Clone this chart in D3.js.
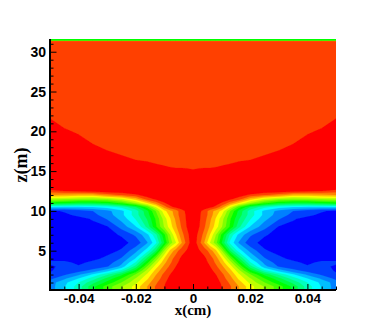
<!DOCTYPE html>
<html><head><meta charset="utf-8">
<script src="https://cdn.jsdelivr.net/npm/d3@7"></script>
<style>html,body{margin:0;padding:0;background:#fff}svg{display:block}</style></head>
<body><svg id="c" width="382" height="327"></svg>
<script>
// x positions (cm) of the left half of the field; the right half mirrors it
const halfX = [-0.05,-0.045,-0.04,-0.035,-0.03,-0.025,-0.02,-0.016,-0.013,-0.01,-0.008,-0.006,-0.004,-0.002,0];
// z positions (m) of the rows in fieldRows
const zRows = [0.06,0.5,1,1.5,2,2.5,3,3.5,4,5,6,7,8,9,9.5,10,10.5,11,11.5,12,12.5,13,14,15,16,18,20,22,24,31.3,31.36,31.6];
// contour level read at each (z, x), 0 = blue ... 16 = red
const fieldRows = [
[2,3.4,5,7.2,9,10.4,11.9,13.5,14.6,15.5,16.1,16.3,16.5,16.5,16.5],
[2,3.4,5,7.2,9,10.4,11.9,13.5,14.6,15.5,16.1,16.3,16.5,16.5,16.5],
[2,3.2,4.5,6.2,7.8,9.5,11.2,13,14.3,15.3,16.1,16.3,16.5,16.5,16.5],
[1.2,2.3,3.5,5,6.8,8.5,10.6,12.3,13.9,15,15.8,16.3,16.5,16.5,16.5],
[0.6,1.3,2.3,3.6,5.3,7.2,9.6,11.7,13.4,14.8,15.5,16.1,16.5,16.5,16.5],
[0.4,0.9,1.1,1.8,3,4.8,7.8,10.8,12.8,14.3,15.1,15.8,16.3,16.5,16.5],
[0.3,0.8,0.6,0.9,1.4,2.8,6,9.6,12,13.8,14.7,15.5,16.1,16.5,16.5],
[0.7,0.7,0.3,0.7,1,2.2,4.6,8.2,11,13.2,14.3,15.2,15.9,16.4,16.5],
[0.2,0.2,0.2,0.3,0.7,1.6,3.6,6.8,9.8,12.6,14,15,15.7,16.2,16.5],
[0,0,0,0,0.2,0.6,2.2,4,6.5,10.5,12.7,14,15.1,15.6,16.4],
[0,0,0,0,0,0.2,0.8,2.4,4.2,7.5,9.9,11.4,13.4,15,16.2],
[0,0,0,0,0.2,0.6,1.7,3.2,5.2,8.3,10.5,12.4,14.1,15.2,16.3],
[0,0,0,0.2,0.4,1.9,3.4,5.8,8.3,10.6,12,13.3,14.6,15.6,16.3],
[0,0,0.2,0.6,1.6,2.8,4.6,6.6,8.6,11,12.4,13.7,14.9,15.7,16.2],
[0.1,0.3,0.7,1.2,2,3.2,5,7,9,11.6,12.8,14,15,15.7,16.2],
[0.3,0.6,1,1.5,2.2,3.2,5,7.2,9.5,12.2,13.1,14,15.1,15.8,16.3],
[3.5,3.4,3.4,3.6,4,4.8,6.5,9,11.5,14,15.2,15.8,16.1,16.5,16.5],
[8,7.6,7.2,7.2,7.6,8.8,10.5,12.5,14,15.4,16,16.5,16.5,16.5,16.5],
[10.8,10.6,10.3,10.2,10.5,11.3,13,15,15.7,16.2,16.5,16.5,16.5,16.5,16.5],
[13.5,13.3,13,13,14,14.6,15.3,16,16.5,16.5,16.5,16.5,16.5,16.5,16.5],
[15,15.5,15.7,15.9,16.1,16.3,16.5,16.5,16.5,16.5,16.5,16.5,16.5,16.5,16.5],
[16.5,16.5,16.5,16.5,16.5,16.5,16.5,16.5,16.5,16.5,16.5,16.5,16.5,16.5,16.5],
[17,17,17,16.8,16.6,16.5,16.4,16.3,16.2,16.2,16.1,16.1,16.1,16.1,16.05],
[17.2,16.9,16.6,16.4,16.2,16,15.9,15.8,15.7,15.7,15.6,15.6,15.6,15.6,15.55],
[16.9,16.6,16.4,16.1,15.9,15.75,15.6,15.55,15.48,15.4,15.4,15.35,15.35,15.3,15.3],
[16.4,16.1,15.9,15.6,15.4,15.25,15.1,15.05,15,14.9,14.9,14.85,14.85,14.8,14.8],
[15.9,15.6,15.4,15.1,14.9,14.75,14.6,14.6,14.6,14.6,14.6,14.6,14.6,14.6,14.6],
[15.4,15.1,14.9,14.6,14.6,14.6,14.6,14.6,14.6,14.6,14.6,14.6,14.6,14.6,14.6],
[14.8,14.6,14.6,14.6,14.6,14.6,14.6,14.6,14.6,14.6,14.6,14.6,14.6,14.6,14.6],
[15,15,15,15,15,15,15,15,15,15,15,15,15,15,15],
[8,8,8,8,8,8,8,8,8,8,8,8,8,8,8],
[8,8,8,8,8,8,8,8,8,8,8,8,8,8,8]
];
const levelColors = ["#0000ff","#0040ff","#0080ff","#00bfff","#00ffff","#00ffbf","#00ff80","#00ff40","#00ff00",
 "#40ff00","#80ff00","#bfff00","#ffff00","#ffbf00","#ff8000","#ff4000","#ff0000"];
const xTicks = [-0.04,-0.02,0,0.02,0.04];
const xMinor = [-0.05,-0.045,-0.035,-0.03,-0.025,-0.015,-0.01,-0.005,0.005,0.01,0.015,0.025,0.03,0.035,0.045,0.05];
const zTicks = [5,10,15,20,25,30];
const zMinor = [1,2,3,4,6,7,8,9,11,12,13,14,16,17,18,19,21,22,23,24,26,27,28,29,31];

const pLeft=50,pRight=336,pTop=39,pBottom=290;
const x=d3.scaleLinear().domain([-0.05,0.05]).range([pLeft,pRight]);
const y=d3.scaleLinear().domain([0.06,31.6]).range([pBottom,pTop]);
const svg=d3.select("#c");

// full grid by mirroring the half table
const fullX=halfX.concat(halfX.slice(0,-1).reverse().map(d=>-d));
const values=[];
zRows.forEach((z,j)=>{const r=fieldRows[j];const full=r.concat(r.slice(0,-1).reverse());values.push(...full);});
const nx=fullX.length,nz=zRows.length;
const ix=d3.scaleLinear().domain(fullX.map((d,i)=>i+0.5)).range(fullX.map(d=>x(d))).clamp(true);
const iz=d3.scaleLinear().domain(zRows.map((d,i)=>i+0.5)).range(zRows.map(d=>y(d))).clamp(true);
const thresholds=d3.range(1,levelColors.length).map(i=>i-0.5);
const contours=d3.contours().size([nx,nz]).thresholds(thresholds)(values);
const path=d3.geoPath(d3.geoTransform({point(a,b){this.stream.point(ix(a),iz(b));}}));

const defs=svg.append("defs");
defs.append("filter").attr("id","soft").attr("x","-2%").attr("y","-2%").attr("width","104%").attr("height","104%")
  .append("feGaussianBlur").attr("stdDeviation",0.45);
defs.append("clipPath").attr("id","plot").append("rect")
  .attr("x",pLeft).attr("y",pTop).attr("width",pRight-pLeft).attr("height",pBottom-pTop);
const plot=svg.append("g").attr("clip-path","url(#plot)").append("g").attr("filter","url(#soft)");
plot.append("rect").attr("x",pLeft-4).attr("y",pTop-4).attr("width",pRight-pLeft+8).attr("height",pBottom-pTop+8).attr("fill",levelColors[0]);
plot.selectAll("path").data(contours).join("path")
  .attr("d",path).attr("fill",(d,i)=>levelColors[i+1]).attr("stroke",(d,i)=>levelColors[i+1]).attr("stroke-width",0.2);

// axes
const fontSans='"Liberation Sans",Arial,sans-serif',fontSerif='"Liberation Serif","Times New Roman",serif';
const xg=svg.append("g").attr("transform",`translate(0,${pBottom})`)
  .call(d3.axisBottom(x).tickValues(xTicks).tickSize(-6).tickFormat(d=>d===0?"0":d3.format(".2f")(d).replace("−","-")));
const xm=svg.append("g").attr("transform",`translate(0,${pBottom})`)
  .call(d3.axisBottom(x).tickValues(xMinor).tickSize(-3.5).tickFormat(""));
const yg=svg.append("g").attr("transform",`translate(${pLeft},0)`)
  .call(d3.axisLeft(y).tickValues(zTicks).tickSize(-6.5));
const ym=svg.append("g").attr("transform",`translate(${pLeft},0)`)
  .call(d3.axisLeft(y).tickValues(zMinor).tickSize(-3.5).tickFormat(""));
[xg,xm,yg,ym].forEach(g=>{g.selectAll(".tick line").attr("stroke","#000").attr("stroke-width",1);
  g.selectAll(".domain").remove();
  g.selectAll("text").attr("font-family",fontSans).attr("font-weight","bold").attr("fill","#000");});
yg.selectAll("text").attr("x",-4).attr("font-size",14);
xg.selectAll("text").attr("y",3).attr("font-size",13.5);
svg.append("line").attr("x1",pLeft).attr("x2",pLeft).attr("y1",pTop).attr("y2",pBottom+1).attr("stroke","#000").attr("stroke-width",2);
svg.append("line").attr("x1",pLeft-1).attr("x2",pRight).attr("y1",pBottom).attr("y2",pBottom).attr("stroke","#000").attr("stroke-width",2);
svg.append("text").attr("x",193).attr("y",315).attr("text-anchor","middle")
  .attr("font-family",fontSerif).attr("font-weight","bold").attr("font-size",15).text("x(cm)");
svg.append("text").attr("transform","translate(27,165) rotate(-90)").attr("text-anchor","middle")
  .attr("font-family",fontSerif).attr("font-weight","bold").attr("font-size",18).text("z(m)");
</script></body></html>
